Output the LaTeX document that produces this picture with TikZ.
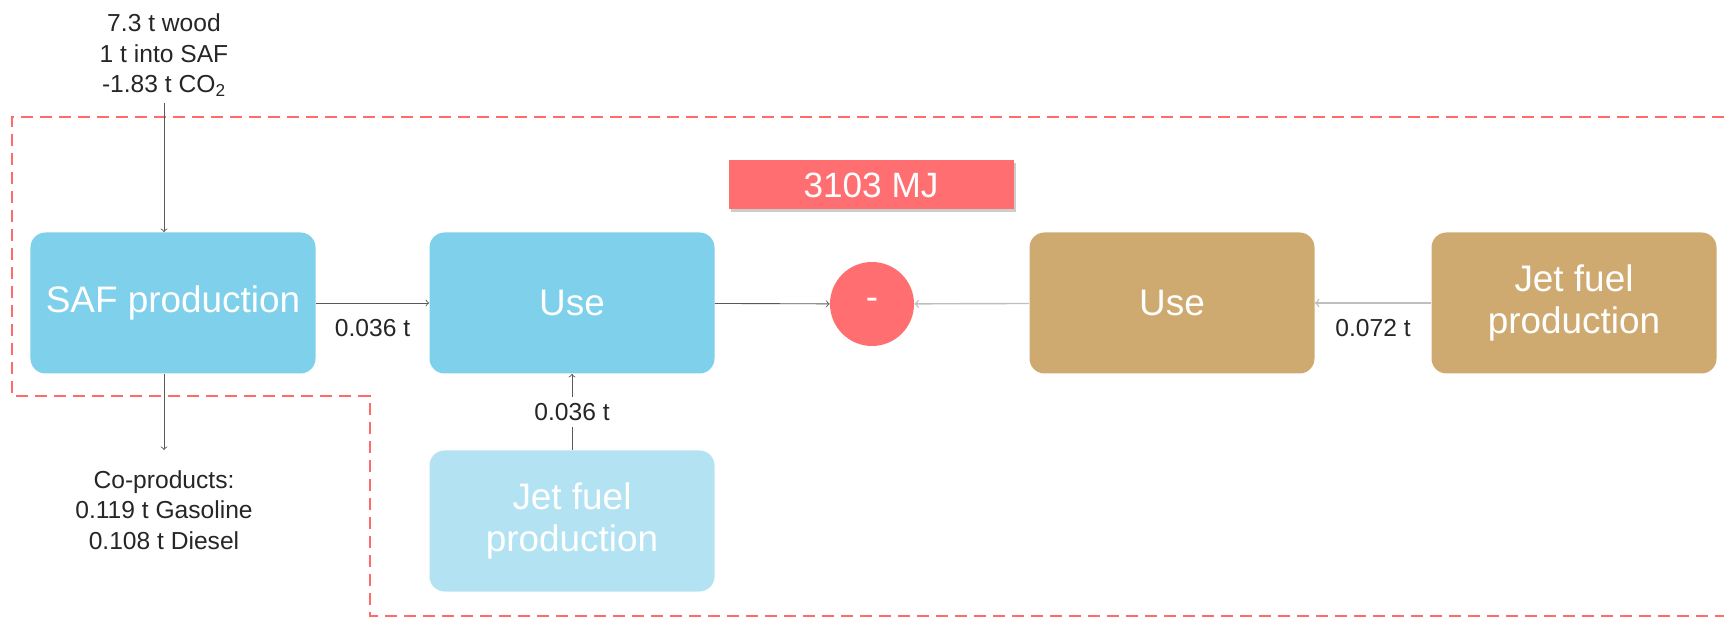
\documentclass[tikz,border=0pt]{standalone}
\usepackage{fontspec}
\setmainfont{Liberation Sans}
\usetikzlibrary{shadows}
\definecolor{safblue}{HTML}{7FD0EA}
\definecolor{jetblue}{HTML}{B3E3F2}
\definecolor{tan}{HTML}{CFAA70}
\definecolor{redfill}{HTML}{FF6F72}
\definecolor{redline}{HTML}{FF6B6B}
\begin{document}
\begin{tikzpicture}[x=0.2mm, y=-0.2mm,
    box/.style={rounded corners=3mm, minimum width=5.7cm, minimum height=2.82cm,
      text=white, align=center, font=\fontsize{21}{24}\selectfont},
    lbl/.style={font=\fontsize{14}{17.5}\selectfont, align=center, text=black!85},
    flow/.style={->, draw=black!65, line width=0.5pt},
    faint/.style={->, draw=black!25, line width=0.8pt}]
  \useasboundingbox (0,0) rectangle (1724,619);
  % system boundary
  \draw[redline, line width=1.5pt, dash pattern=on 0.24cm off 0.14cm]
    (1724,117) -- (12,117) -- (12,396) -- (370,396) -- (370,616) -- (1724,616);
  \node [box, fill=safblue] (saf) at (173,303) {SAF production};
  \node [box, fill=safblue] (use) at (572,303) {Use};
  \node [box, fill=jetblue] (jet) at (572,521) {Jet fuel\\production};
  \node [box, fill=tan] (fuse) at (1172,303) {Use};
  \node [box, fill=tan] (fjet) at (1574,303) {Jet fuel\\production};
  \node [circle, fill=redfill, minimum size=1.68cm, text=white,
    font=\fontsize{21}{24}\selectfont] (minus) at (872,304) {-};
  \node [fill=redfill, minimum width=5.7cm, minimum height=0.98cm, text=white,
    font=\fontsize{20}{24}\selectfont,
    drop shadow={shadow xshift=0.5mm, shadow yshift=-0.5mm, opacity=0.4}] (mj) at (871,185) {3103 MJ};
  \node [lbl] (wood) at (164,55) {7.3 t wood\\1 t into SAF\\-1.83 t CO\textsubscript{2}};
  \node [lbl] (coprod) at (164,510) {Co-products:\\0.119 t Gasoline\\0.108 t Diesel};
  \draw[flow] (wood.south) -- (wood.south |- saf.north);
  \draw[flow, shorten >=2.8mm] (coprod.north |- saf.south) -- (coprod.north);
  \draw[flow] (saf) -- (use) node[midway, below=2mm, lbl] {0.036 t};
  \draw[flow] (use) -- (minus);
  \draw[flow] (jet) -- (use) node[midway, lbl, fill=white] {0.036 t};
  \draw[faint] (fuse) -- (minus);
  \draw[faint] (fjet) -- (fuse) node[midway, below=2mm, lbl] {0.072 t};
\end{tikzpicture}
\end{document}
